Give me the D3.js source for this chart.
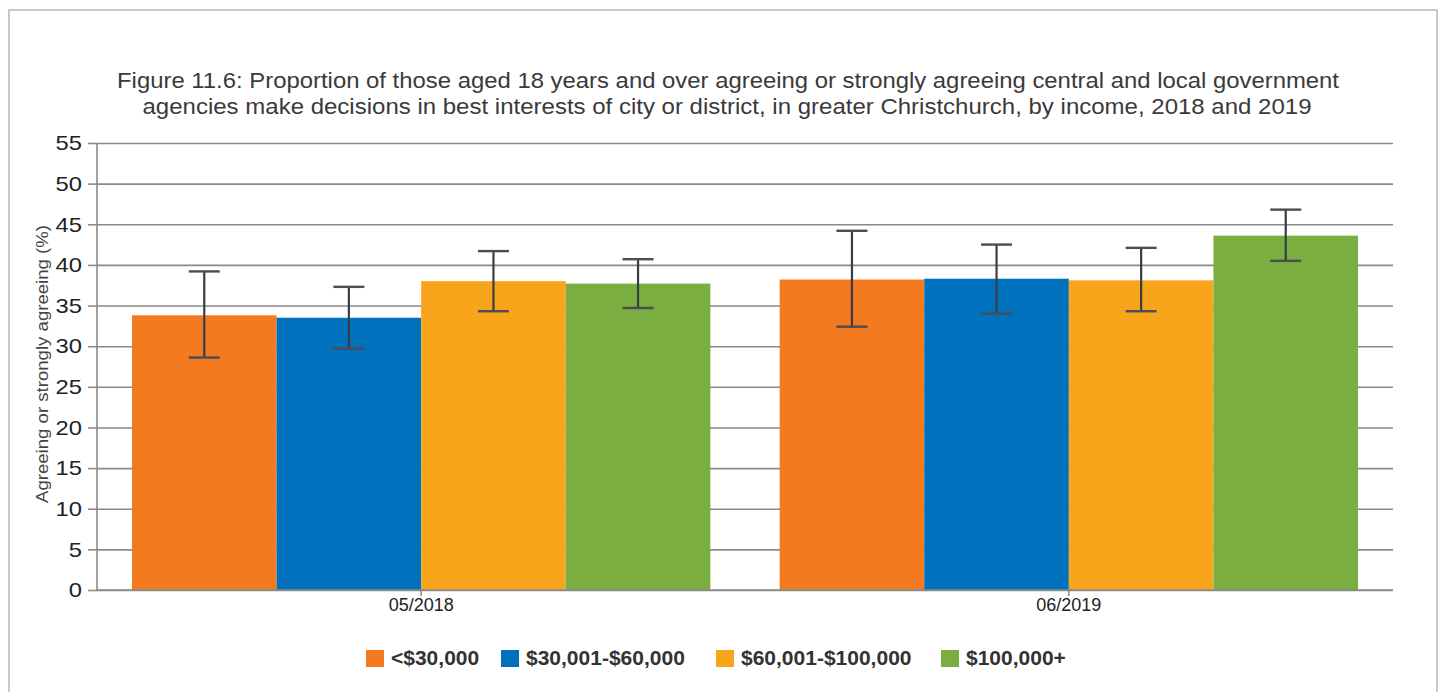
<!DOCTYPE html>
<html>
<head>
<meta charset="utf-8">
<script src="https://cdn.jsdelivr.net/npm/d3@7"></script>
<style>
  body { margin: 0; background: #fff; font-family: "Liberation Sans", Arial, sans-serif; }
  .grid line { stroke: #8a8a8a; stroke-width: 1.6; }
  .grid path { display: none; }
</style>
</head>
<body>
<div id="chart"></div>
<script>
// chart data
const periods = ["05/2018", "06/2019"];
const incomes = ["<$30,000", "$30,001-$60,000", "$60,001-$100,000", "$100,000+"];
const colors = ["#F47A20", "#0071BC", "#F9A51B", "#7AAE41"];
// values per period, one per income band
const values = [[33.8, 33.5, 38.0, 37.7], [38.2, 38.3, 38.1, 43.6]];
const lowers = [[28.6, 29.7, 34.3, 34.7], [32.4, 34.0, 34.3, 40.5]];
const uppers = [[39.2, 37.3, 41.7, 40.7], [44.2, 42.5, 42.1, 46.8]];
const yTicks = [0, 5, 10, 15, 20, 25, 30, 35, 40, 45, 50, 55];

const WIDTH = 1444, HEIGHT = 692;
const MARGINS = {left: 97, right: 51, top: 143, bottom: 102};

// the source renders its text a bit wider than Arial, so stretch it
function stretch(sel, k) {
  sel.each(function() {
    const w = this.getComputedTextLength();
    d3.select(this).attr("textLength", w * k).attr("lengthAdjust", "spacingAndGlyphs");
  });
}

const svg = d3.select("#chart").append("svg")
  .attr("width", WIDTH).attr("height", HEIGHT);

// outer frame
svg.append("rect")
  .attr("x", 9).attr("y", 10)
  .attr("width", 1428).attr("height", 700)
  .attr("fill", "none").attr("stroke", "#c8c8c8").attr("stroke-width", 2);

// title
const title = svg.append("text")
  .attr("text-anchor", "middle")
  .attr("fill", "#3a3a3a")
  .style("font-size", "22px");
title.append("tspan").attr("x", 728).attr("y", 88)
  .attr("textLength", 1222).attr("lengthAdjust", "spacingAndGlyphs")
  .text("Figure 11.6: Proportion of those aged 18 years and over agreeing or strongly agreeing central and local government");
title.append("tspan").attr("x", 727).attr("y", 114)
  .attr("textLength", 1169).attr("lengthAdjust", "spacingAndGlyphs")
  .text("agencies make decisions in best interests of city or district, in greater Christchurch, by income, 2018 and 2019");

const x0 = d3.scaleBand()
  .domain(periods)
  .range([MARGINS.left, WIDTH - MARGINS.right])
  .paddingInner(0.107)
  .paddingOuter(0.054);

const x1 = d3.scaleBand()
  .domain(incomes)
  .range([0, x0.bandwidth()]);

const y = d3.scaleLinear()
  .domain([0, 55])
  .range([HEIGHT - MARGINS.bottom, MARGINS.top]);

// grid lines + y axis ticks
const yAxis = svg.append("g")
  .attr("class", "grid")
  .attr("transform", "translate(" + MARGINS.left + ",0)")
  .call(d3.axisLeft(y).tickValues(yTicks)
    .tickSize(-(WIDTH - MARGINS.left - MARGINS.right))
    .tickPadding(15));
yAxis.selectAll(".tick text")
  .attr("fill", "#222")
  .style("font-size", "21px")
  .style("font-family", "Liberation Sans, Arial, sans-serif")
  .call(stretch, 1.13);
// little outward tick stubs
yAxis.selectAll(".tick").append("line")
  .attr("x1", -9).attr("x2", 0)
  .attr("stroke", "#8a8a8a").attr("stroke-width", 1.6);

// y axis line
svg.append("line")
  .attr("x1", MARGINS.left).attr("x2", MARGINS.left)
  .attr("y1", y(55)).attr("y2", y(0))
  .attr("stroke", "#8a8a8a").attr("stroke-width", 1.6);

// y label
svg.append("text")
  .attr("transform", "translate(48,364) rotate(-90)")
  .attr("text-anchor", "middle")
  .attr("fill", "#444")
  .style("font-size", "16px")
  .attr("textLength", 278).attr("lengthAdjust", "spacingAndGlyphs")
  .text("Agreeing or strongly agreeing (%)");

// bars
const groups = svg.append("g")
  .selectAll("g")
  .data(periods)
  .enter()
  .append("g")
    .attr("transform", (d) => "translate(" + x0(d) + ",0)");

groups.selectAll("rect")
  .data((d, i) => incomes.map((inc, j) => ({inc: inc, value: values[i][j], color: colors[j]})))
  .enter()
  .append("rect")
    .attr("x", (d) => x1(d.inc))
    .attr("y", (d) => y(d.value))
    .attr("width", x1.bandwidth())
    .attr("height", (d) => y(0) - y(d.value))
    .attr("fill", (d) => d.color);

// error bars
const errs = groups.selectAll("g.err")
  .data((d, i) => incomes.map((inc, j) => ({inc: inc, lo: lowers[i][j], hi: uppers[i][j]})))
  .enter()
  .append("g")
    .attr("class", "err")
    .attr("transform", (d) => "translate(" + (x1(d.inc) + x1.bandwidth() / 2) + ",0)");

errs.append("line")
  .attr("y1", (d) => y(d.lo)).attr("y2", (d) => y(d.hi))
  .attr("stroke", "#3a3d45").attr("stroke-width", 2.2);
errs.selectAll("line.cap")
  .data((d) => [d.lo, d.hi])
  .enter()
  .append("line")
    .attr("class", "cap")
    .attr("x1", -15.5).attr("x2", 15.5)
    .attr("y1", (v) => y(v)).attr("y2", (v) => y(v))
    .attr("stroke", "#4a4d55").attr("stroke-width", 2.4);

// x axis
const xAxis = svg.append("g")
  .attr("transform", "translate(0," + y(0) + ")")
  .call(d3.axisBottom(x0).tickSizeOuter(0).tickSize(6).tickPadding(2));
xAxis.select(".domain")
  .attr("d", "M" + MARGINS.left + ",0H" + (WIDTH - MARGINS.right))
  .attr("stroke", "#8a8a8a").attr("stroke-width", 1.6);
xAxis.selectAll(".tick line").attr("stroke", "#8a8a8a").attr("stroke-width", 1.5);
xAxis.selectAll(".tick text")
  .attr("fill", "#222")
  .style("font-size", "18px")
  .style("font-family", "Liberation Sans, Arial, sans-serif");

// legend
const legendX = [366, 501, 716, 941];
const legend = svg.append("g")
  .selectAll("g")
  .data(incomes)
  .enter()
  .append("g")
    .attr("transform", (d, i) => "translate(" + legendX[i] + ",650)");
legend.append("rect")
  .attr("width", 18).attr("height", 17)
  .attr("fill", (d, i) => colors[i]);
legend.append("text")
  .attr("x", 25).attr("y", 15)
  .attr("fill", "#333")
  .style("font-size", "21px")
  .style("font-weight", "bold")
  .text((d) => d);
</script>
</body>
</html>
